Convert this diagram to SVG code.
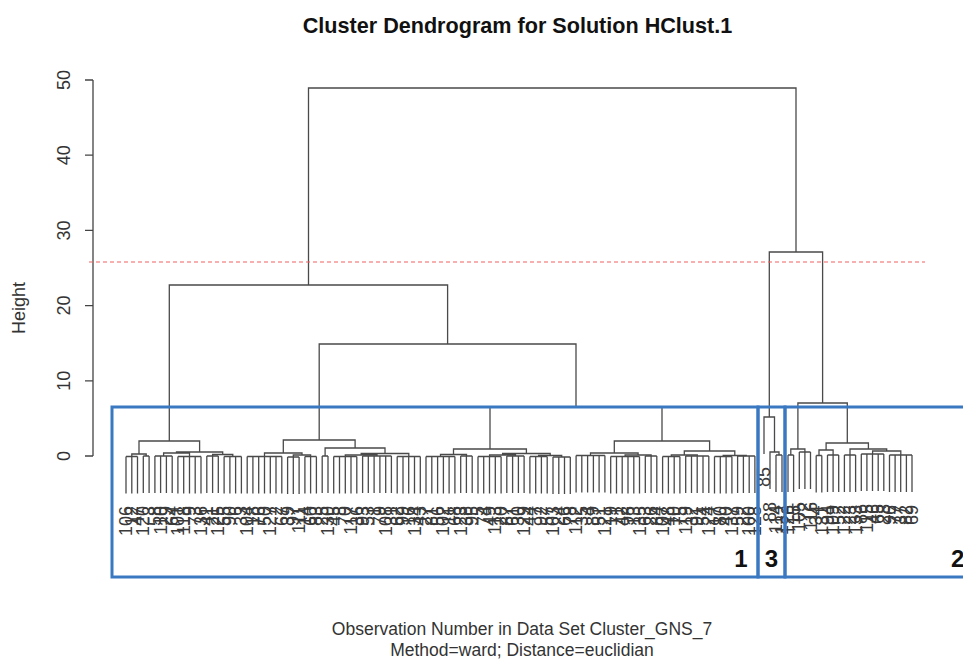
<svg xmlns="http://www.w3.org/2000/svg" width="963" height="661" viewBox="0 0 963 661">
<style>
text{font-family:"Liberation Sans",Arial,Helvetica,sans-serif;fill:#333}
.title{font-size:21.6px;font-weight:bold;fill:#111}
.ax{font-size:18px;text-anchor:middle}
.lbl text{font-size:18px;text-anchor:end;fill:#3a3a3a}
.dg{fill:none;stroke:#4a4a4a;stroke-width:1.3}
.box{fill:none;stroke:#3b78c2;stroke-width:3}
.cn{font-size:24px;font-weight:bold;fill:#111}
.cap{font-size:17.5px;text-anchor:middle}
</style>
<rect width="963" height="661" fill="#fff"/>
<g id="title"><text class="title" x="517.5" y="33" text-anchor="middle">Cluster Dendrogram for Solution HClust.1</text></g>
<g id="y-axis">
<path d="M93 80V456M85 80H93M85 155.2H93M85 230.4H93M85 305.6H93M85 380.8H93M85 456H93" fill="none" stroke="#444" stroke-width="1.3"/>
<text class="ax" x="70" y="80" transform="rotate(-90 70 80)">50</text>
<text class="ax" x="70" y="155.2" transform="rotate(-90 70 155.2)">40</text>
<text class="ax" x="70" y="230.4" transform="rotate(-90 70 230.4)">30</text>
<text class="ax" x="70" y="305.6" transform="rotate(-90 70 305.6)">20</text>
<text class="ax" x="70" y="380.8" transform="rotate(-90 70 380.8)">10</text>
<text class="ax" x="70" y="456" transform="rotate(-90 70 456)">0</text>
<text class="ax" x="25" y="308" transform="rotate(-90 25 308)">Height</text>
</g>
<g id="connectors" class="dg">
<path id="merges" d="M131.8 456.5V454H146.2V456M163.6 456V453H189.5V456.5M212.6 456V454.5H232.8V456.5M176.5 453V452H222.7V454.5M139 454V441H199.6V452M293.3 457V455H310.6V456.5M264.5 456.5V453H302V455M345.3 456.5V455H377V456M361.2 455V453.5H408.8V456.5M325.1 456V448H385V453.5M283.3 453V440H355.1V448M440.5 456.5V454.5H466.5V456M489.6 456.5V455H515.5V456M538.6 456.5V455.5H561.7V457M502.6 455V453.5H550.2V455.5M453.5 454.5V449H526.4V453.5M625.1 456.5V455H651.1V456M590.5 455.5V453H638.1V455M671.3 456.5V455H697.3V456M723.2 456.5V455.5H746.3V456M684.3 455V451H734.8V455.5M614.3 453V441H709.6V451M490 449V407H662V441M319.2 440V344H576V407M169.3 441V285H447.6V344M770 489V452H779V455M764 454V417H774.5V452M790.8 455V449H804.9V452M819 455.5V450H833.1V455M872.6 454V451H900.8V455M850 455V449H886.7V451M826.1 450V443H868.4V449M797.9 449V403H847.3V443M769.3 417V252H822.6V403M308.5 285V88H796V252"/>
<path id="leaves-1" d="M126 456.5H137.5M126 456.5v37M131.8 456.5v37M137.5 456.5v37M143.3 456H149.1M143.3 456v37M149.1 456v37M154.9 456H172.2M154.9 456v37M160.6 456v37M166.4 456v37M172.2 456v37M177.9 456.5H201M177.9 456.5v37M183.7 456.5v37M189.5 456.5v37M195.2 456.5v37M201 456.5v37M206.8 456H218.3M206.8 456v37M212.6 456v37M218.3 456v37M224.1 456.5H241.4M224.1 456.5v37M229.9 456.5v37M235.6 456.5v37M241.4 456.5v37M247.2 456.5H281.8M247.2 456.5v37M252.9 456.5v37M258.7 456.5v37M264.5 456.5v37M270.3 456.5v37M276 456.5v37M281.8 456.5v37M287.6 457H299.1M287.6 457v37M293.3 457v37M299.1 457v37M304.9 456.5H316.4M304.9 456.5v37M310.6 456.5v37M316.4 456.5v37M322.2 456H328M322.2 456v37M328 456v37M333.7 456.5H356.8M333.7 456.5v37M339.5 456.5v37M345.3 456.5v37M351 456.5v37M356.8 456.5v37M362.6 456H391.4M362.6 456v37M368.3 456v37M374.1 456v37M379.9 456v37M385.7 456v37M391.4 456v37M397.2 456.5H420.3M397.2 456.5v37M403 456.5v37M408.7 456.5v37M414.5 456.5v37M420.3 456.5v37M426 456.5H454.9M426 456.5v37M431.8 456.5v37M437.6 456.5v37M443.4 456.5v37M449.1 456.5v37M454.9 456.5v37M460.7 456H472.2M460.7 456v37M466.4 456v37M472.2 456v37M478 456.5H501.1M478 456.5v37M483.7 456.5v37M489.5 456.5v37M495.3 456.5v37M501.1 456.5v37M506.8 456H524.1M506.8 456v37M512.6 456v37M518.4 456v37M524.1 456v37M529.9 456.5H547.2M529.9 456.5v37M535.7 456.5v37M541.4 456.5v37M547.2 456.5v37M553 457H570.3M553 457v37M558.8 457v37M564.5 457v37M570.3 457v37M576.1 455.5H604.9M576.1 455.5v37M581.8 455.5v37M587.6 455.5v37M593.4 455.5v37M599.1 455.5v37M604.9 455.5v37M610.7 456.5H639.5M610.7 456.5v37M616.5 456.5v37M622.2 456.5v37M628 456.5v37M633.8 456.5v37M639.5 456.5v37M645.3 456H656.8M645.3 456v37M651.1 456v37M656.8 456v37M662.6 456.5H679.9M662.6 456.5v37M668.4 456.5v37M674.2 456.5v37M679.9 456.5v37M685.7 456H708.8M685.7 456v37M691.5 456v37M697.2 456v37M703 456v37M708.8 456v37M714.5 456.5H731.9M714.5 456.5v37M720.3 456.5v37M726.1 456.5v37M731.9 456.5v37M737.6 456H754.9M737.6 456v37M743.4 456v37M749.2 456v37M754.9 456v37"/>
<path id="leaves-3" d="M776 455H782M776 455v37M782 455v37"/>
<path id="leaves-2" d="M788 455H793.6M788 455v37M793.6 455v37M799.3 452H810.5M799.3 452v37M804.9 452v37M810.5 452v37M816.2 455.5H821.8M816.2 455.5v37M821.8 455.5v37M827.5 455H838.7M827.5 455v37M833.1 455v37M838.7 455v37M844.4 455H855.6M844.4 455v37M850 455v37M855.6 455v37M861.3 454H883.8M861.3 454v37M866.9 454v37M872.5 454v37M878.2 454v37M883.8 454v37M889.5 455H912M889.5 455v37M895.1 455v37M900.7 455v37M906.4 455v37M912 455v37"/>
</g>
<g id="cut-line"><path d="M89 262H925" fill="none" stroke="#f26060" stroke-width="1.2" stroke-dasharray="4 3"/></g>
<g id="leaf-labels" class="lbl" transform="rotate(-90)">
<text x="-506" y="132">106</text><text x="-506" y="137.8">12</text><text x="-506" y="143.5">47</text><text x="-506" y="149.3">120</text><text x="-506" y="155.1">3</text><text x="-506" y="160.9">58</text><text x="-506" y="166.6">110</text><text x="-506" y="172.4">29</text><text x="-506" y="178.2">64</text><text x="-506" y="183.9">101</text><text x="-506" y="189.7">118</text><text x="-506" y="195.5">9</text><text x="-506" y="201.2">73</text><text x="-506" y="207">136</text><text x="-506" y="212.8">41</text><text x="-506" y="218.6">21</text><text x="-506" y="224.3">125</text><text x="-506" y="230.1">55</text><text x="-506" y="235.9">90</text><text x="-506" y="241.6">6</text><text x="-506" y="247.4">33</text>
<text x="-506" y="253.2">104</text><text x="-506" y="258.9">18</text><text x="-506" y="264.7">76</text><text x="-506" y="270.5">50</text><text x="-506" y="276.3">127</text><text x="-506" y="282">2</text><text x="-506" y="287.8">67</text><text x="-506" y="293.6">39</text><text x="-506" y="299.3">97</text><text x="-506" y="305.1">111</text><text x="-506" y="310.9">14</text><text x="-506" y="316.6">60</text><text x="-506" y="322.4">83</text><text x="-506" y="328.2">25</text><text x="-506" y="334">130</text><text x="-506" y="339.7">45</text><text x="-506" y="345.5">8</text><text x="-506" y="351.3">70</text><text x="-506" y="357">117</text><text x="-506" y="362.8">36</text><text x="-506" y="368.6">93</text><text x="-506" y="374.3">53</text><text x="-506" y="380.1">1</text><text x="-506" y="385.9">79</text><text x="-506" y="391.7">108</text><text x="-506" y="397.4">31</text><text x="-506" y="403.2">62</text><text x="-506" y="409">99</text><text x="-506" y="414.7">16</text><text x="-506" y="420.5">134</text><text x="-506" y="426.3">43</text>
<text x="-506" y="432">27</text><text x="-506" y="437.8">81</text><text x="-506" y="443.6">56</text><text x="-506" y="449.4">102</text><text x="-506" y="455.1">11</text><text x="-506" y="460.9">68</text><text x="-506" y="466.7">123</text><text x="-506" y="472.4">38</text><text x="-506" y="478.2">95</text><text x="-506" y="484">5</text><text x="-506" y="489.7">74</text><text x="-506" y="495.5">49</text><text x="-506" y="501.3">113</text><text x="-506" y="507.1">20</text><text x="-506" y="512.8">87</text><text x="-506" y="518.6">61</text><text x="-506" y="524.4">30</text><text x="-506" y="530.1">129</text><text x="-506" y="535.9">44</text><text x="-506" y="541.7">7</text><text x="-506" y="547.4">92</text><text x="-506" y="553.2">57</text><text x="-506" y="559">103</text><text x="-506" y="564.8">24</text><text x="-506" y="570.5">66</text><text x="-506" y="576.3">78</text>
<text x="-506" y="582.1">112</text><text x="-506" y="587.8">35</text><text x="-506" y="593.6">4</text><text x="-506" y="599.4">89</text><text x="-506" y="605.1">51</text><text x="-506" y="610.9">121</text><text x="-506" y="616.7">19</text><text x="-506" y="622.5">71</text><text x="-506" y="628.2">42</text><text x="-506" y="634">98</text><text x="-506" y="639.8">13</text><text x="-506" y="645.5">135</text><text x="-506" y="651.3">63</text><text x="-506" y="657.1">26</text><text x="-506" y="662.8">84</text><text x="-506" y="668.6">107</text><text x="-506" y="674.4">48</text><text x="-506" y="680.2">10</text><text x="-506" y="685.9">75</text><text x="-506" y="691.7">119</text><text x="-506" y="697.5">32</text><text x="-506" y="703.2">91</text><text x="-506" y="709">54</text><text x="-506" y="714.8">124</text><text x="-506" y="720.5">17</text><text x="-506" y="726.3">80</text><text x="-506" y="732.1">40</text><text x="-506" y="737.9">137</text><text x="-506" y="743.6">59</text><text x="-506" y="749.4">22</text><text x="-506" y="755.2">100</text><text x="-506" y="760.9">128</text>
<text x="-467" y="770">85</text><text x="-502" y="776">88</text><text x="-505" y="782">114</text><text x="-505" y="788">132</text>
<text x="-505" y="794">126</text><text x="-505" y="799.6">15</text><text x="-502" y="805.3">105</text><text x="-502" y="810.9">72</text><text x="-502" y="816.5">116</text><text x="-505.5" y="822.2">34</text><text x="-505.5" y="827.8">131</text><text x="-505" y="833.5">94</text><text x="-505" y="839.1">109</text><text x="-505" y="844.7">52</text><text x="-505" y="850.4">122</text><text x="-505" y="856">23</text><text x="-505" y="861.6">133</text><text x="-504" y="867.3">86</text><text x="-504" y="872.9">115</text><text x="-504" y="878.5">46</text><text x="-504" y="884.2">65</text><text x="-504" y="889.8">28</text><text x="-505" y="895.5">96</text><text x="-505" y="901.1">77</text><text x="-505" y="906.7">37</text><text x="-505" y="912.4">82</text><text x="-505" y="918">69</text>
</g>
<g id="cluster-1"><rect class="box" x="112" y="407" width="646" height="170"/><text class="cn" x="741" y="567" text-anchor="middle">1</text></g>
<g id="cluster-3"><rect class="box" x="758" y="407" width="27" height="170"/><text class="cn" x="771.5" y="567" text-anchor="middle">3</text></g>
<g id="cluster-2"><rect class="box" x="785" y="407" width="200" height="170"/><text class="cn" x="951" y="567">2</text></g>
<g id="x-caption">
<text class="cap" x="522" y="635">Observation Number in Data Set Cluster_GNS_7</text>
<text class="cap" x="522" y="655.5">Method=ward; Distance=euclidian</text>
</g>
</svg>
